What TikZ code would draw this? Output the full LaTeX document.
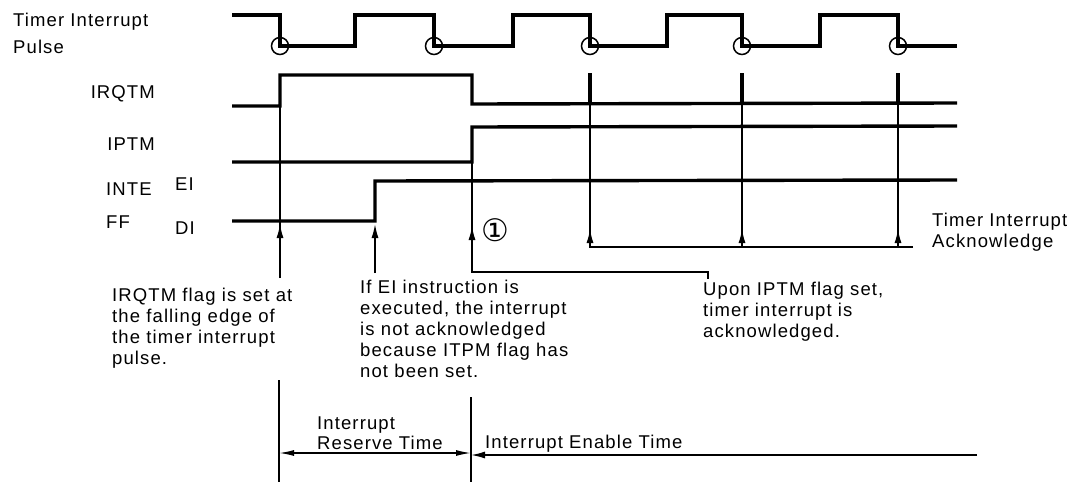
\documentclass[tikz,border=0pt]{standalone}
\usepackage{fontspec}
\setmainfont[LetterSpace=6]{Liberation Sans}
\newfontfamily\circfont{DejaVu Sans}
\usetikzlibrary{arrows.meta}

\begin{document}
\begin{tikzpicture}[
  x=1pt, y=-1pt,
  font=\fontsize{18.5}{21}\selectfont,
  wave/.style={line width=3.4pt},
  fine/.style={line width=1.5pt},
  arrow/.style={fine, -{Latex[length=14pt,width=7pt]}},
  dimarrow/.style={fine, {Latex[length=15pt,width=6pt]}-{Latex[length=15pt,width=6pt]}},
  lbl/.style={inner sep=0pt, anchor=base west},
  rlbl/.style={inner sep=0pt, anchor=base east},
  note/.style={inner sep=0pt, anchor=north west, align=left}
]
\useasboundingbox (0,0) rectangle (1081,482);

% signal names
\node[note] (pulse) at (13,13) {Timer Interrupt\\[6pt]Pulse};
\node[rlbl] (irq) at (155,98) {IRQTM};
\node[rlbl] (ipt) at (155,150) {IPTM};
\node[lbl] (inte) at (106,195) {INTE};
\node[lbl] (ff) at (106,228) {FF};
\node[lbl] (ei) at (175,190) {EI};
\node[lbl] (di) at (175,234) {DI};

% waveforms
\draw[wave] (232,15) -| (280,46) -| (355,15) -| (434,46) -| (513,15)
  -| (590,46) -| (667,15) -| (742,46) -| (820,15) -| (898,46) -- (957,46);
\foreach \x in {280,434,590,742,898}
  \draw[fine] (\x,46) circle[radius=8.5pt];
\draw[wave] (232,106) -| (280,75) -| (472,104) -- (957,103);
\draw[wave] (232,162) -| (472,127) -- (957,126);
\draw[wave] (232,221) -| (375,181) -- (957,180);
\foreach \x in {590,742,898}
  \draw[wave] (\x,73) -- (\x,104);

% edges the notes point at
\coordinate (rq) at (280,106);
\coordinate (ie) at (375,224);
\coordinate (ip) at (472,162);
\coordinate (rqend) at (280,278);
\coordinate (ieend) at (375,273);
\coordinate (ipbend) at (472,272);

% notes
\node[note] (irqnote) at (112,288) {IRQTM flag is set at\\the falling edge of\\the timer interrupt\\pulse.};
\node[note] (einote) at (360,280) {If EI instruction is\\executed, the interrupt\\is not acknowledged\\because ITPM flag has\\not been set.};
\node[note] (ipnote) at (703,282) {Upon IPTM flag set,\\timer interrupt is\\acknowledged.};
\node[note] (acknote) at (932,213) {Timer Interrupt\\Acknowledge};
\node[font=\circfont\fontsize{31}{31}\selectfont, inner sep=0pt] (one) at (495,230) {①};

\draw[fine] (rq) -- (rqend);
\draw[arrow] (rqend) -- (280,224);
\draw[arrow] (ieend) -- (ie);
\draw[fine] (ip) -- (ipbend) -| (708,279);
\draw[arrow] (ipbend) -- (472,226);

% acknowledge
\coordinate (ackend) at (913,247);
\draw[fine] (ackend) -| (590,104);
\foreach \x in {742,898}
  \draw[fine] (\x,247) -- (\x,104);
\foreach \x in {590,742,898}
  \draw[arrow] (\x,247) -- (\x,229);

% time spans
\coordinate (resL) at (279,380);
\coordinate (resR) at (471,397);
\draw[fine] (resL) -- (279,482);
\draw[fine] (resR) -- (471,482);
\draw[dimarrow] (279,453) -- (471,453);
\draw[arrow] (977,455) -- (471,455);
\node[note] (resnote) at (317,417) {Interrupt\\[-1pt]Reserve Time};
\node[lbl] (ennote) at (485,448) {Interrupt Enable Time};
\end{tikzpicture}
\end{document}
